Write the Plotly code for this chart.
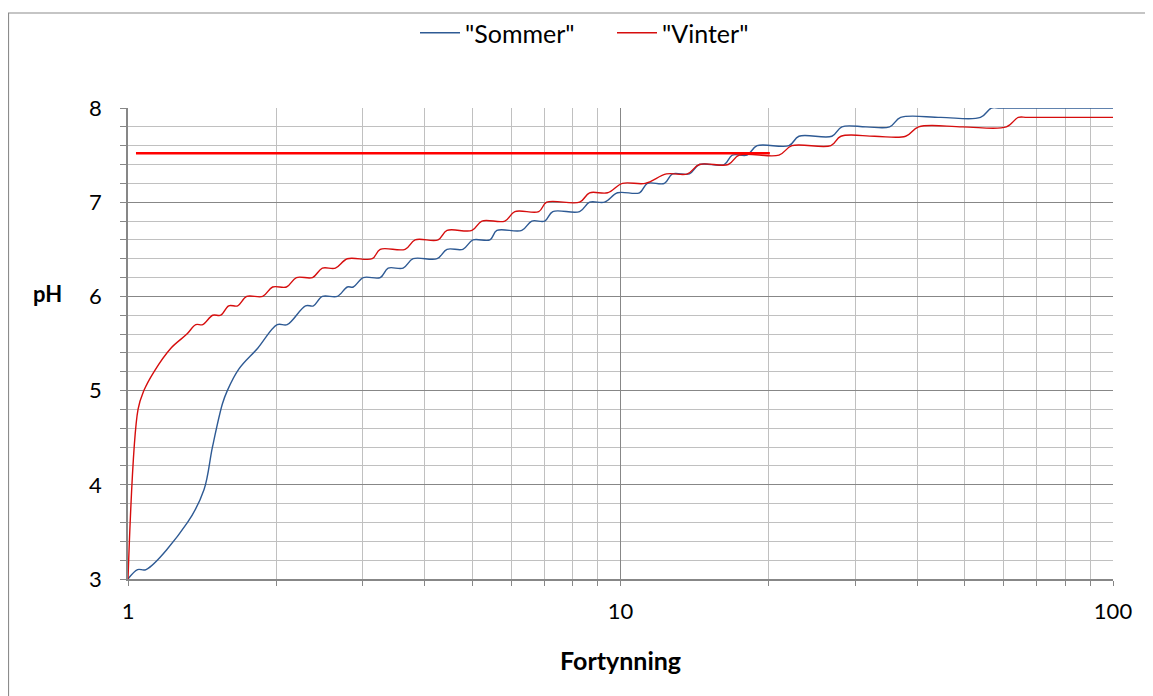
import plotly.graph_objects as go

# ---- data ----
sommer_x = [1.000, 1.046, 1.088, 1.321, 1.427, 1.484, 1.555, 1.591, 1.680, 1.834,
            2.009, 2.105, 2.293, 2.380, 2.481, 2.661, 2.788, 2.867, 3.004, 3.252,
            3.375, 3.619, 3.793, 4.242, 4.444, 4.786, 5.016, 5.430, 5.611, 6.304,
            6.605, 7.019, 7.286, 8.260, 8.655, 9.281, 9.861, 10.93, 11.34, 12.28,
            12.75, 13.80, 14.46, 16.24, 16.86, 18.07, 18.94, 21.98, 23.03, 26.87,
            28.15, 31.5, 35.19, 37.05, 44.7, 53.81, 56.64, 59.0, 100.0]
sommer_ph = [3.0, 3.1, 3.1, 3.6, 3.95, 4.4, 4.86, 5.0, 5.23, 5.45,
             5.7, 5.7, 5.9, 5.9, 6.0, 6.0, 6.1, 6.1, 6.2, 6.2,
             6.3, 6.3, 6.4, 6.4, 6.5, 6.5, 6.6, 6.6, 6.7, 6.7,
             6.8, 6.8, 6.9, 6.9, 7.0, 7.0, 7.1, 7.1, 7.2, 7.2,
             7.3, 7.3, 7.4, 7.4, 7.5, 7.5, 7.6, 7.6, 7.7, 7.7,
             7.8, 7.8, 7.8, 7.9, 7.9, 7.9, 8.0, 8.0, 8.0]

vinter_x = [1.000, 1.048, 1.077, 1.129, 1.222, 1.317, 1.373, 1.418, 1.486, 1.543,
            1.601, 1.670, 1.742, 1.877, 1.966, 2.098, 2.198, 2.369, 2.481, 2.637,
            2.788, 3.133, 3.252, 3.653, 3.828, 4.262, 4.444, 4.994, 5.232, 5.824,
            6.102, 6.824, 7.083, 8.260, 8.655, 9.412, 10.09, 11.23, 12.40, 13.67,
            14.46, 16.55, 17.42, 20.98, 22.29, 26.74, 28.02, 32.8, 37.93, 40.30,
            49.5, 60.74, 64.23, 67.0, 100.0]
vinter_ph = [3.0, 4.8, 5.0, 5.2, 5.45, 5.6, 5.7, 5.7, 5.8, 5.8,
             5.9, 5.9, 6.0, 6.0, 6.1, 6.1, 6.2, 6.2, 6.3, 6.3,
             6.4, 6.4, 6.5, 6.5, 6.6, 6.6, 6.7, 6.7, 6.8, 6.8,
             6.9, 6.9, 7.0, 7.0, 7.1, 7.1, 7.2, 7.2, 7.3, 7.3,
             7.4, 7.4, 7.5, 7.5, 7.6, 7.6, 7.7, 7.7, 7.7, 7.8,
             7.8, 7.8, 7.9, 7.9, 7.9]

ref_x = [1.038, 20.1]
ref_ph = [7.52, 7.52]

x_tick_vals = [1, 10, 100]
x_tick_text = ["1", "10", "100"]
x_minor_vals = [2, 3, 4, 5, 6, 7, 8, 9, 20, 30, 40, 50, 60, 70, 80, 90]
y_tick_vals = [3, 4, 5, 6, 7, 8]

FONT = "Lato, 'Liberation Sans', sans-serif"
MAJOR = "#878787"
MINOR = "#c0c0c0"

fig = go.Figure()
fig.add_trace(go.Scatter(x=sommer_x, y=sommer_ph, name='"Sommer"', mode="lines",
                         line=dict(color="#2e5a94", width=1.4, shape="spline", smoothing=1)))
fig.add_trace(go.Scatter(x=vinter_x, y=vinter_ph, name='"Vinter"', mode="lines",
                         line=dict(color="#d60d0d", width=1.4, shape="spline", smoothing=1)))
fig.add_trace(go.Scatter(x=ref_x, y=ref_ph, mode="lines", showlegend=False,
                         line=dict(color="#ff0000", width=2.6)))

# page body has an 8px margin: figure coords = page coords - 8
W, H = 1145, 688
PL, PR, PT, PB = 120, 1105, 100, 571   # plot area in figure coords
L, R, T, B = PL, W - PR, PT, H - PB
pw, ph_ = PR - PL, PB - PT

def px(xp):
    return (xp - PL) / pw

def py(yp):
    return (PB - yp) / ph_

fig.update_layout(
    width=W, height=H,
    margin=dict(l=L, r=R, t=T, b=B, autoexpand=False),
    paper_bgcolor="white", plot_bgcolor="white",
    font=dict(family=FONT, color="black", size=22),
    showlegend=True,
    legend=dict(orientation="h", x=px(407), y=py(25), xanchor="left", yanchor="middle",
                font=dict(size=25, family=FONT), bgcolor="rgba(0,0,0,0)", itemwidth=40,
                entrywidth=142, entrywidthmode="pixels", tracegroupgap=0),
    xaxis=dict(type="log", range=[0, 2], tickvals=x_tick_vals, ticktext=x_tick_text,
               showgrid=True, gridcolor=MAJOR, gridwidth=1.2,
               showline=True, linecolor=MAJOR, linewidth=1.6,
               ticks="outside", ticklen=5, tickcolor=MAJOR, tickwidth=1.2,
               ticklabelstandoff=7, tickfont=dict(size=22),
               minor=dict(tickvals=x_minor_vals, showgrid=True, gridcolor=MINOR, gridwidth=1.2,
                          ticks="outside", ticklen=5, tickcolor=MAJOR, tickwidth=1.2),
               zeroline=False, fixedrange=True),
    yaxis=dict(range=[3, 8], tickvals=y_tick_vals,
               showgrid=True, gridcolor=MAJOR, gridwidth=1.2,
               showline=True, linecolor=MAJOR, linewidth=1.6,
               ticks="outside", ticklen=6, tickcolor=MAJOR, tickwidth=1.2,
               ticklabelstandoff=14, tickfont=dict(size=22),
               minor=dict(dtick=0.2, showgrid=True, gridcolor=MINOR, gridwidth=1.2,
                          ticks="outside", ticklen=6, tickcolor=MAJOR, tickwidth=1.2),
               zeroline=False, fixedrange=True),
    shapes=[dict(type="rect", xref="paper", yref="paper",
                 x0=px(0.5), x1=px(1170), y0=py(710), y1=py(5),
                 line=dict(color="#8c8c8c", width=1.2), fillcolor="rgba(0,0,0,0)", layer="below")],
    annotations=[
        dict(text="<b>pH</b>", xref="paper", yref="paper", x=px(39), y=py(285),
             showarrow=False, xanchor="center", yanchor="middle", font=dict(size=22, family=FONT)),
        dict(text="<b>Fortynning</b>", xref="paper", yref="paper", x=px(612), y=py(652),
             showarrow=False, xanchor="center", yanchor="middle", font=dict(size=25, family=FONT)),
    ],
)

fig.write_html("out.html")
